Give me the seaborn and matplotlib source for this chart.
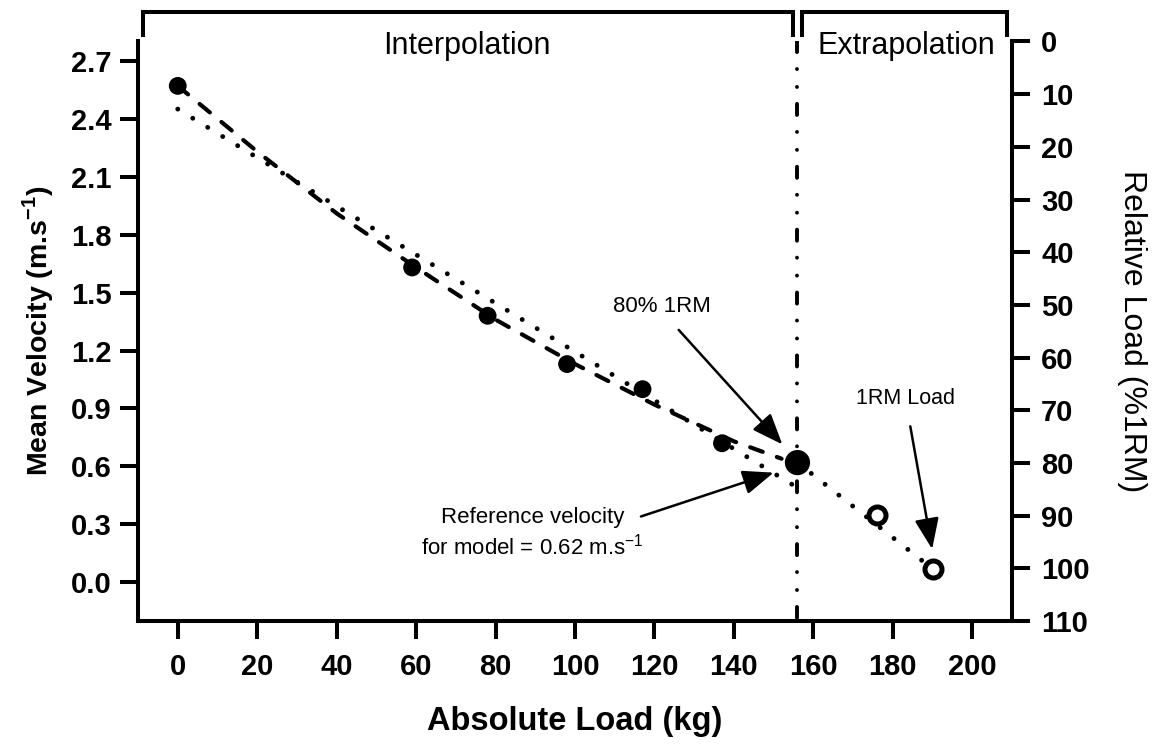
import matplotlib
matplotlib.use('Agg')
import matplotlib.pyplot as plt
import matplotlib.transforms as mtransforms
import seaborn as sns

# measured loads (kg) and mean velocities (m/s), interpolation part
loads = [0, 59, 78, 98, 117, 137]
velocities = [2.57, 1.63, 1.38, 1.13, 1.00, 0.72]
# 80% 1RM reference point
ref_load = [156]
ref_velocity = [0.62]
# extrapolated loads (open circles)
extrap_loads = [176, 190]
extrap_velocities = [0.35, 0.07]

# dashed curve through the measured points
curve_loads = [0, 20, 40, 60, 80, 100, 120, 140, 152]
curve_velocities = [2.57, 2.23, 1.91, 1.63, 1.36, 1.13, 0.92, 0.73, 0.64]

# dotted linear model (interpolation) and extrapolation line
linear_loads = [0, 156]
linear_velocities = [2.45, 0.49]
extrap_line_loads = [156, 190]
extrap_line_velocities = [0.62, 0.07]

x_ticks = [0, 20, 40, 60, 80, 100, 120, 140, 160, 180, 200]
v_ticks = [0.0, 0.3, 0.6, 0.9, 1.2, 1.5, 1.8, 2.1, 2.4, 2.7]
rel_ticks = [0, 10, 20, 30, 40, 50, 60, 70, 80, 90, 100, 110]

interp_span = [-8.8, 155.0]
extrap_span = [157.2, 208.8]

sns.set_style('ticks')
plt.rcParams['font.family'] = ['Liberation Sans', 'DejaVu Sans']
plt.rcParams['mathtext.fontset'] = 'custom'
plt.rcParams['mathtext.rm'] = 'Liberation Sans'
plt.rcParams['mathtext.bf'] = 'Liberation Sans:bold'
for key in ['text.color', 'axes.labelcolor', 'xtick.color', 'ytick.color', 'axes.edgecolor']:
    plt.rcParams[key] = 'black'

fig = plt.figure(figsize=(11.58, 7.47), dpi=100)
ax = fig.add_axes([0.1192, 0.1687, 0.7547, 0.7758])

sns.lineplot(x=curve_loads, y=curve_velocities, ax=ax, color='black', linewidth=3.0,
             linestyle=(0, (3.2, 3.6)), dash_capstyle='round', zorder=2)
sns.lineplot(x=linear_loads, y=linear_velocities, ax=ax, color='black', linewidth=3.5,
             linestyle=(0, (0.01, 3.6)), dash_capstyle='round', zorder=2)
sns.lineplot(x=extrap_line_loads, y=extrap_line_velocities, ax=ax, color='black', linewidth=3.5,
             linestyle=(0, (0.01, 3.6)), dash_capstyle='round', zorder=2)

sns.scatterplot(x=loads, y=velocities, ax=ax, color='black', s=165, edgecolor='none', zorder=4)
sns.scatterplot(x=ref_load, y=ref_velocity, ax=ax, color='black', s=330, edgecolor='none', zorder=4)
sns.scatterplot(x=extrap_loads, y=extrap_velocities, ax=ax, color='white', edgecolor='black',
                linewidth=3.6, s=150, zorder=4)

ax.set_xlim(-10, 210)
ax.set_ylim(-0.2, 2.8)

# vertical 80% 1RM marker, drawn from top down
ymin, ymax = ax.get_ylim()
ax.plot([ref_load[0], ref_load[0]], [ymax, ymin], color='black', linewidth=2.8,
        linestyle=(0, (2.85, 4.35, 0.01, 4.6, 0.01, 4.35)), dash_capstyle='round', zorder=3)

ax.set_xticks(x_ticks)
ax.set_yticks(v_ticks)
ax.set_yticklabels([f'{v:.1f}' for v in v_ticks])
ax.tick_params(axis='both', direction='out', length=13, width=2.9, labelsize=21, color='black')
ax.tick_params(axis='x', pad=10)
ax.tick_params(axis='y', pad=6)
for lab in ax.get_xticklabels() + ax.get_yticklabels():
    lab.set_fontweight('bold')

for side in ['left', 'bottom']:
    ax.spines[side].set_linewidth(2.9)
ax.spines['top'].set_visible(False)
ax.spines['right'].set_visible(False)

ax.set_xlabel('Absolute Load (kg)', fontsize=23.5, fontweight='bold')
ax.xaxis.set_label_coords(0.5, -0.147)
ax.set_ylabel(r'Mean Velocity (m.s$^{\mathbf{-1}}$)', fontsize=20.5, fontweight='bold')
ax.yaxis.set_label_coords(-0.094, 0.5)

# right axis: relative load
ax2 = ax.twinx()
ax2.set_ylim(110, 0)
ax2.set_yticks(rel_ticks)
ax2.tick_params(axis='y', direction='out', length=13, width=2.9, labelsize=21, pad=8, color='black')
for lab in ax2.get_yticklabels():
    lab.set_fontweight('bold')
for side in ['left', 'top', 'bottom']:
    ax2.spines[side].set_visible(False)
ax2.spines['right'].set_linewidth(2.9)
ax2.spines['right'].set_bounds(110, 0)
ax2.set_ylabel('Relative Load (%1RM)', fontsize=23, rotation=270, va='bottom')
ax2.yaxis.set_label_coords(1.12, 0.5)

# top brackets and region labels
trans = mtransforms.blended_transform_factory(ax.transData, ax.transAxes)
for lo, hi in [interp_span, extrap_span]:
    ax.plot([lo, lo, hi, hi], [1.008, 1.051, 1.051, 1.008], transform=trans, clip_on=False,
            color='black', linewidth=2.9, solid_joinstyle='miter', solid_capstyle='butt')
ax.text(72.8, 0.978, 'Interpolation', transform=trans, ha='center', va='baseline', fontsize=22)
ax.text(183.5, 0.978, 'Extrapolation', transform=trans, ha='center', va='baseline', fontsize=22)

# annotations
arrow = dict(arrowstyle='-|>,head_length=1.9,head_width=0.75', mutation_scale=10,
             color='black', linewidth=1.8, shrinkA=0, shrinkB=0)
ax.annotate('', xy=(152.2, 0.714), xytext=(126.1, 1.307), arrowprops=arrow)
ax.text(122, 1.426, '80% 1RM', ha='center', va='center', fontsize=16)
ax.annotate('', xy=(150, 0.568), xytext=(116.6, 0.341), arrowprops=arrow)
ax.text(89.3, 0.255, 'Reference velocity\nfor model = 0.62 m.s$^{-1}$', ha='center', va='center',
        fontsize=16, linespacing=1.3)
ax.annotate('', xy=(189.9, 0.172), xytext=(184.4, 0.808), arrowprops=arrow)
ax.text(183.2, 0.954, '1RM Load', ha='center', va='center', fontsize=15.5)

fig.savefig('out.png', dpi=100)
